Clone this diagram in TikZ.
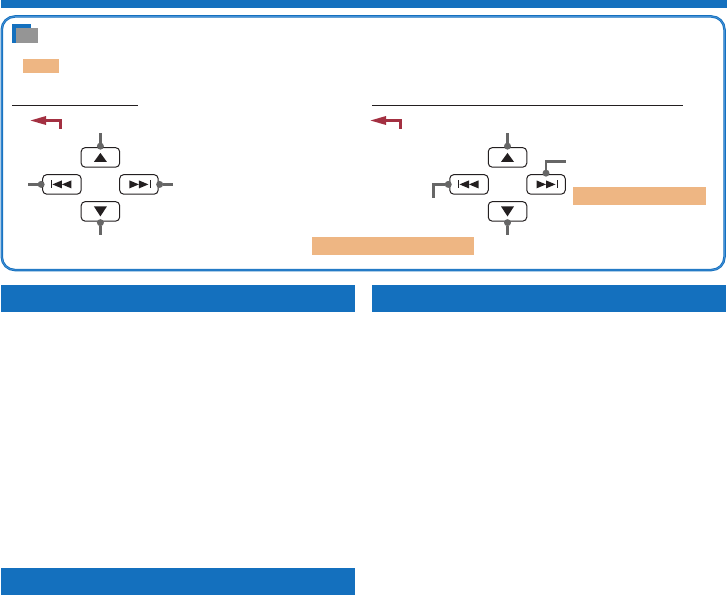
\documentclass[tikz,border=0pt]{standalone}
\definecolor{headblue}{RGB}{20, 112, 190}
\definecolor{framelight}{RGB}{70, 145, 215}
\definecolor{tabgray}{RGB}{149, 149, 149}
\definecolor{hiorange}{RGB}{238, 182, 131}
\definecolor{backred}{RGB}{163, 48, 65}
\definecolor{leadgray}{RGB}{102, 102, 102}
\definecolor{keyblack}{RGB}{35, 31, 32}
\usetikzlibrary{positioning, calc}
\tikzset{
  block/.style={inner sep=0pt, outer sep=0pt, anchor=north west},
  headbar/.style={block, fill=headblue, minimum height=27pt, minimum width=354pt},
  hilite/.style={block, fill=hiorange},
  keybtn/.style={draw=keyblack, line width=1pt, rounded corners=4pt, inner sep=0pt, outer sep=0pt, minimum width=38.5pt, minimum height=19.5pt},
  leaddot/.style={circle, fill=leadgray, inner sep=0pt, outer sep=0pt, minimum size=7pt},
  leadline/.style={draw=leadgray, line width=2.7pt},
  rule/.style={draw=keyblack, line width=1pt},
  backarrow/.style={draw=backred, line width=2.8pt}
}
% four keys around a centre, with their glyphs
\newcommand{\keypad}[3]{
  \coordinate (#1c) at (#2,#3);
  \node[keybtn] (#1up) at ($(#1c)+(0,-27)$) {};
  \node[keybtn] (#1down) at ($(#1c)+(0,27)$) {};
  \node[keybtn] (#1prev) at ($(#1c)+(-38.5,0)$) {};
  \node[keybtn] (#1next) at ($(#1c)+(38.5,0)$) {};
  \fill[keyblack] ($(#1up)+(-6.5,4.5)$) -- ($(#1up)+(6.5,4.5)$) -- ($(#1up)+(0,-4.5)$) -- cycle;
  \fill[keyblack] ($(#1down)+(-6.5,-5)$) -- ($(#1down)+(6.5,-5)$) -- ($(#1down)+(0,5)$) -- cycle;
  \fill[keyblack] ($(#1prev)+(-9.5,0)$) -- ($(#1prev)+(0,-4)$) -- ($(#1prev)+(0,4)$) -- cycle;
  \fill[keyblack] ($(#1prev)+(0,0)$) -- ($(#1prev)+(9.5,-4)$) -- ($(#1prev)+(9.5,4)$) -- cycle;
  \draw[keyblack, line width=0.6pt] ($(#1prev)+(-11,-4)$) -- ($(#1prev)+(-11,4)$);
  \fill[keyblack] ($(#1next)+(0,0)$) -- ($(#1next)+(-9.5,-4)$) -- ($(#1next)+(-9.5,4)$) -- cycle;
  \fill[keyblack] ($(#1next)+(9.5,0)$) -- ($(#1next)+(0,-4)$) -- ($(#1next)+(0,4)$) -- cycle;
  \draw[keyblack, line width=0.6pt] ($(#1next)+(11,-4)$) -- ($(#1next)+(11,4)$);
  \node[leaddot, above=-2pt of #1up] (#1updot) {};
  \node[leaddot, below=-2pt of #1down] (#1downdot) {};
}

\begin{document}
\begin{tikzpicture}[x=1pt, y=-1pt]
  \useasboundingbox (0,0) rectangle (727,594);

  % header bars
  \node[block, fill=headblue, minimum width=726pt, minimum height=8pt] (topbar) at (1,0) {};
  \node[headbar] (barleft) at (1,285) {};
  \node[headbar] (barright) at (372,285) {};
  \node[headbar] (barlower) at (1,568) {};

  % note frame
  \draw[draw=headblue, line width=0.9pt, double=framelight, double distance=0.7pt, rounded corners=13pt] (1.8,16.5) rectangle (724.5,270);
  \node[block, fill=headblue, minimum width=19pt, minimum height=19pt] (tabblue) at (12,24) {};
  \node[block, fill=tabgray, minimum width=22pt, minimum height=15pt] (tabgrey) at (16,28) {};

  % highlights
  \node[hilite, minimum width=36pt, minimum height=14pt] (hitag) at (23,59) {};
  \node[hilite, minimum width=133pt, minimum height=18pt] (hiright) at (573,187) {};
  \node[hilite, minimum width=162pt, minimum height=18pt] (hilow) at (312,237) {};

  % column rules
  \coordinate (ruleAa) at (12,105.5);
  \coordinate (ruleAb) at (138,105.5);
  \coordinate (ruleBa) at (372,105);
  \coordinate (ruleBb) at (683,105);
  \draw[rule] (ruleAa) -- (ruleAb);
  \draw[rule] (ruleBa) -- (ruleBb);

  % return arrows
  \foreach \name/\xpos in {retA/44, retB/384} {
    \coordinate (\name) at (\xpos,120.5);
    \fill[backred] ($(\name)+(-13.5,0)$) -- ($(\name)+(2,-4.5)$) -- ($(\name)+(2,4.5)$) -- cycle;
    \draw[backarrow] ($(\name)+(0,0)$) -| ($(\name)+(16.5,8)$);
  }

  % left keypad
  \keypad{a}{100.4}{184.4}
  \node[leaddot, left=-2pt of aprev] (aprevdot) {};
  \node[leaddot, right=-2pt of anext] (anextdot) {};
  \coordinate (aupend) at (100.4,132.5);
  \coordinate (adownend) at (100.4,235);
  \coordinate (aprevend) at (28,184.4);
  \coordinate (anextend) at (172.5,184.4);
  \draw[leadline] (aupdot) -- (aupend);
  \draw[leadline] (adowndot) -- (adownend);
  \draw[leadline] (aprevdot) -- (aprevend);
  \draw[leadline] (anextdot) -- (anextend);

  % right keypad
  \keypad{b}{507.5}{184.4}
  \node[leaddot, left=-2pt of bprev] (bprevdot) {};
  \node[leaddot, above=-2pt of bnext] (bnextdot) {};
  \coordinate (bupend) at (507.5,132.5);
  \coordinate (bdownend) at (507.5,235);
  \coordinate (bprevend) at (433.5,198);
  \coordinate (bnextend) at (565.5,161.5);
  \draw[leadline] (bupdot) -- (bupend);
  \draw[leadline] (bdowndot) -- (bdownend);
  \draw[leadline] (bprevdot) -| (bprevend);
  \draw[leadline] (bnextdot) |- (bnextend);
\end{tikzpicture}
\end{document}
